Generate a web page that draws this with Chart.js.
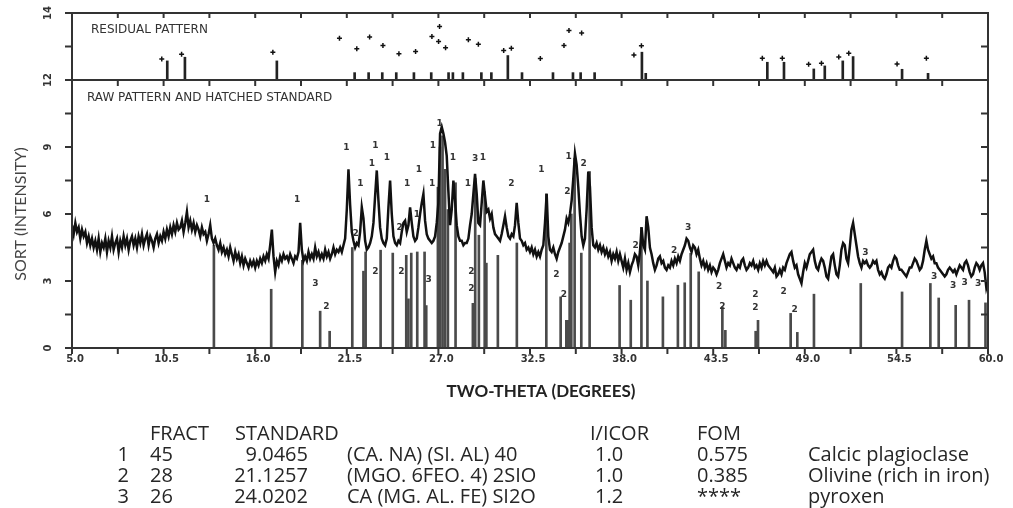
<!DOCTYPE html>
<html>
<head>
<meta charset="utf-8">
<title>XRD pattern</title>
<script src="https://cdn.jsdelivr.net/npm/chart.js@4.4.1/dist/chart.umd.min.js"></script>
<style>
  html, body { margin: 0; padding: 0; background: #fff; }
  #wrap { position: relative; width: 1013px; height: 508px; overflow: hidden; }
  #xrd { position: absolute; left: 0; top: 0; }
  .cell {
    position: absolute;
    font-family: "Open Sans", Lato, sans-serif;
    font-size: 20px;
    color: #262626;
    white-space: nowrap;
    line-height: 1;
  }
  .num { text-align: right; }
</style>
</head>
<body>
<div id="wrap">
  <canvas id="xrd" width="1013" height="508"></canvas>
</div>
<script>
// raw scan, 5.0 - 60.0 deg two-theta in 0.1 deg steps (sqrt intensity)
var rawStart = 5.0;
var rawStep = 0.1;
var rawIntensity = [
  5.5, 5.1, 5.6, 5.2, 5.4, 4.9, 5.3, 5.0, 5.2, 4.7,
  5.0, 4.6, 4.9, 4.5, 4.8, 4.4, 4.9, 4.3, 4.7, 4.5,
  4.9, 4.3, 4.8, 4.5, 5.0, 4.4, 4.7, 4.9, 4.3, 4.8,
  4.5, 5.0, 4.6, 4.9, 4.4, 4.8, 5.0, 4.6, 4.9, 4.5,
  5.0, 4.7, 5.1, 4.6, 4.9, 5.1, 4.6, 5.0, 4.8, 4.5,
  4.9, 5.1, 4.7, 5.0, 4.8, 5.2, 4.9, 5.3, 5.0, 5.4,
  5.1, 5.5, 5.2, 5.6, 5.3, 5.4, 5.7, 5.2, 5.6, 6.1,
  5.4, 5.7, 5.3, 5.6, 5.2, 5.5, 5.3, 5.0, 5.4, 5.1,
  5.2, 4.8, 5.1, 5.5, 4.9, 4.7, 4.9, 4.6, 4.4, 4.7,
  4.3, 4.5, 4.2, 4.4, 4.1, 4.5, 4.2, 3.9, 4.3, 4.0,
  4.2, 3.8, 4.1, 3.7, 4.0, 3.8, 3.6, 3.9, 3.7, 3.9,
  3.6, 3.9, 3.7, 4.0, 3.8, 4.1, 3.9, 4.2, 4.0, 4.6,
  5.3, 4.1, 3.4, 3.9, 3.7, 4.1, 3.9, 4.2, 4.0, 4.1,
  3.9, 4.2, 4.0, 3.8, 4.1, 4.0, 4.3, 5.6, 4.4, 3.9,
  4.1, 3.9, 4.3, 4.0, 4.2, 4.0, 4.5, 4.1, 4.3, 4.0,
  4.2, 4.0, 4.4, 4.1, 4.3, 4.0, 4.2, 4.5, 4.2, 4.4,
  4.3, 4.5, 4.3, 4.6, 4.9, 6.2, 8.0, 6.4, 5.2, 4.8,
  4.5, 4.7, 4.6, 5.2, 6.3, 5.8, 4.8, 4.4, 4.5, 4.7,
  5.0, 5.6, 6.8, 7.95, 6.6, 5.4, 4.9, 4.7, 4.6, 4.9,
  6.3, 7.5, 6.0, 5.0, 4.7, 4.6, 4.8, 4.7, 5.2, 5.6,
  5.7, 5.2, 5.5, 6.3, 5.6, 5.0, 4.8, 4.9, 5.4, 6.0,
  6.5, 6.9, 5.7, 5.1, 4.9, 4.8, 4.7, 4.8, 5.0, 5.6,
  6.5, 9.6, 9.9, 9.6, 9.2, 8.6, 7.0, 5.5, 6.2, 7.5,
  6.6, 5.5, 5.0, 4.8, 4.8, 4.6, 4.7, 4.7, 4.9, 5.5,
  6.0, 6.9, 7.8, 6.9, 5.6, 5.5, 6.5, 7.5, 6.8, 6.1,
  6.2, 5.8, 6.0, 5.4, 5.1, 5.0, 4.9, 4.8, 5.1, 5.5,
  5.9, 5.4, 5.0, 4.9, 5.1, 5.0, 5.5, 6.5, 5.6, 4.9,
  4.8, 4.6, 4.7, 4.4, 4.5, 4.3, 4.5, 4.2, 4.4, 4.1,
  4.3, 4.1, 4.4, 4.6, 5.6, 6.9, 5.0, 4.4, 4.3, 4.5,
  4.2, 4.0, 4.3, 4.5, 4.7, 5.0, 5.3, 5.8, 5.6, 6.0,
  6.6, 7.6, 8.7, 8.2, 7.2, 6.0, 5.0, 4.6, 4.9, 6.2,
  7.9, 7.2, 5.4, 4.6, 4.5, 4.7, 4.4, 4.6, 4.3, 4.5,
  4.2, 4.4, 4.1, 4.3, 3.9, 4.2, 4.0, 4.3, 3.9, 4.2,
  3.9, 3.6, 4.0, 3.5, 3.8, 3.4, 3.7, 3.9, 4.2, 4.1,
  3.7, 4.3, 5.4, 4.6, 4.4, 5.9, 5.4, 4.5, 4.2, 3.8,
  3.5, 3.7, 4.0, 4.1, 3.8, 3.9, 3.6, 3.5, 3.7, 3.6,
  3.9, 3.7, 4.0, 3.8, 4.1, 3.9, 4.2, 4.4, 4.6, 4.9,
  4.8, 4.5, 4.3, 4.6, 4.5, 4.2, 4.4, 4.0, 3.7, 3.9,
  3.6, 3.8, 3.5, 3.7, 3.4, 3.6, 3.5, 3.3, 3.5, 3.8,
  4.0, 4.2, 3.9, 3.6, 3.8, 3.7, 4.0, 3.8, 3.6, 3.5,
  3.7, 3.6, 3.9, 4.0, 3.7, 3.5, 3.6, 3.8, 3.7, 3.9,
  3.6, 3.7, 3.5, 3.8, 3.6, 3.9, 3.7, 3.9, 3.7, 3.6,
  3.5, 3.4, 3.6, 3.2, 3.3, 3.5, 3.3, 3.6, 3.5, 3.8,
  4.0, 4.2, 4.3, 3.9, 3.6, 3.7, 3.3, 3.1, 2.9, 3.4,
  3.8, 3.6, 3.9, 4.2, 4.3, 4.4, 3.9, 3.6, 3.5, 3.8,
  4.0, 3.9, 3.6, 3.2, 3.1, 3.6, 4.1, 4.2, 3.7, 3.3,
  3.2, 3.7, 4.4, 4.7, 4.6, 4.0, 3.8, 4.5, 5.3, 5.6,
  5.1, 4.6, 4.1, 3.8, 3.6, 3.9, 3.8, 3.9, 3.7, 3.6,
  3.7, 3.9, 3.8, 3.9, 3.5, 3.3, 3.4, 3.2, 3.1, 3.3,
  3.6, 3.7, 3.6, 3.9, 4.1, 4.0, 3.7, 3.5, 3.5, 3.4,
  3.3, 3.2, 3.4, 3.6, 3.6, 3.8, 4.0, 3.9, 3.7, 3.5,
  3.6, 3.9, 4.4, 4.8, 4.4, 4.2, 4.0, 4.1, 3.8, 3.8,
  3.6, 3.5, 3.4, 3.3, 3.2, 3.3, 3.5, 3.6, 3.5, 3.4,
  3.5, 3.3, 3.5, 3.7, 3.6, 3.5, 3.8, 3.9, 3.7, 3.4,
  3.2, 3.3, 3.6, 3.8, 3.7, 3.5, 3.7, 3.8, 3.4, 2.7,
  3.0
];

// hatched standard: reference line positions and heights
var stickTheta = [
  13.52, 16.96, 18.83, 19.90, 20.47, 21.83, 22.50, 22.63, 23.53, 24.26,
  25.07, 25.20, 25.37, 25.73, 26.17, 26.27, 26.97, 27.10, 27.25, 27.40,
  27.57, 28.03, 29.07, 29.21, 29.43, 29.78, 29.88, 30.57, 31.71, 33.48,
  34.34, 34.68, 34.78, 34.88, 34.98, 35.18, 35.58, 36.08, 37.88, 38.55,
  39.19, 39.55, 40.48, 41.38, 41.79, 42.15, 42.63, 44.05, 44.23, 46.05,
  46.19, 48.15, 48.55, 49.55, 52.36, 54.84, 56.54, 57.04, 58.06, 58.86,
  59.85
];
var stickHeight = [
  4.60, 2.63, 3.93, 1.65, 0.75, 4.50, 3.44, 4.30, 4.38, 4.25,
  4.15, 2.20, 4.25, 4.30, 4.30, 1.90, 7.20, 9.00, 9.50, 8.00,
  6.20, 7.40, 2.00, 7.60, 5.05, 7.00, 3.80, 4.15, 4.70, 6.90,
  2.29, 1.24, 1.24, 4.70, 6.00, 8.50, 4.25, 7.90, 2.80, 2.14,
  5.40, 3.00, 2.29, 2.81, 2.92, 4.24, 3.41, 1.84, 0.79, 0.75,
  1.24, 1.55, 0.70, 2.41, 2.89, 2.51, 2.89, 2.24, 1.91, 2.14,
  2.02
];

// phase numbers printed over the matched peaks
var peakTagTheta = [
  13.10, 18.52, 19.62, 20.27, 21.47, 23.21, 23.91, 23.00, 22.31, 25.83,
  25.13, 26.67, 26.63, 27.07, 27.87, 29.21, 29.67, 28.77, 31.38, 33.18,
  34.82, 35.72, 34.74, 24.67, 25.71, 22.03, 23.21, 24.77, 26.41, 28.98,
  28.98, 34.08, 34.54, 38.84, 41.99, 41.15, 43.85, 44.05, 46.03, 46.03,
  47.73, 48.39, 52.64, 56.76, 57.90, 58.60, 59.40
];
var peakTagLevel = [
  6.65, 6.65, 2.89, 1.84, 8.99, 9.06, 8.54, 8.24, 7.37, 7.97,
  7.37, 9.06, 7.37, 10.06, 8.54, 8.49, 8.54, 7.37, 7.37, 7.97,
  8.57, 8.24, 7.00, 5.38, 5.95, 5.13, 3.41, 3.41, 3.08, 3.41,
  2.66, 3.30, 2.39, 4.60, 5.38, 4.38, 2.74, 1.87, 2.39, 1.79,
  2.51, 1.72, 4.26, 3.18, 2.81, 2.92, 2.89
];
var peakTagText = [
  '1', '1', '3', '2', '1', '1', '1', '1', '1', '1',
  '1', '1', '1', '1', '1', '3', '1', '1', '2', '1',
  '1', '2', '2', '2', '1', '2', '2', '2', '3', '2',
  '2', '2', '2', '2', '3', '2', '2', '2', '2', '2',
  '2', '2', '3', '3', '3', '3', '3'
];

// residual pattern: bars and "+" points
var residTheta = [
  10.72, 11.78, 17.30, 21.97, 22.81, 23.63, 24.47, 25.53, 26.57, 27.61,
  27.87, 28.47, 29.58, 30.18, 31.17, 32.02, 33.88, 35.08, 35.54, 36.38,
  39.22, 39.45, 46.75, 47.75, 49.54, 50.20, 51.28, 51.90, 54.84, 56.40
];
var residHeight = [
  12.57, 12.68, 12.57, 12.22, 12.22, 12.22, 12.22, 12.22, 12.22, 12.22,
  12.22, 12.22, 12.22, 12.22, 12.73, 12.22, 12.22, 12.22, 12.22, 12.22,
  12.83, 12.20, 12.53, 12.53, 12.33, 12.42, 12.57, 12.70, 12.32, 12.20
];
var residPointTheta = [
  10.39, 11.58, 17.06, 21.06, 22.10, 22.87, 23.67, 24.63, 25.63, 26.61,
  27.07, 27.01, 27.43, 28.80, 29.40, 30.92, 31.38, 33.12, 34.54, 34.84,
  35.60, 38.74, 39.19, 46.45, 47.65, 49.23, 50.00, 51.04, 51.64, 54.54,
  56.30
];
var residPointLevel = [
  12.63, 12.77, 12.83, 13.25, 12.93, 13.28, 13.03, 12.78, 12.85, 13.30,
  13.60, 13.15, 12.96, 13.20, 13.07, 12.88, 12.95, 12.64, 13.03, 13.48,
  13.40, 12.75, 13.02, 12.65, 12.65, 12.47, 12.50, 12.69, 12.80, 12.48,
  12.65
];

// axis ticks and labels
var thetaTicks = [5.0, 7.75, 10.5, 13.25, 16.0, 18.75, 21.5, 24.25, 27.0, 29.75,
  32.5, 35.25, 38.0, 40.75, 43.5, 46.25, 49.0, 51.75, 54.5, 57.25, 60.0];
var thetaLabels = ['5.0', '10.5', '16.0', '21.5', '27.0', '32.5', '38.0', '43.5', '49.0', '54.5', '60.0'];
var rawTicks = [0, 1.5, 3, 4.5, 6, 7.5, 9, 10.5, 12];
var rawLabels = ['0', '3', '6', '9', '12'];
var residTicks = [12, 13, 14];
var residLabels = ['14'];

// identified phases
var phaseNo = ['1', '2', '3'];
var phaseFract = ['45', '28', '26'];
var phaseStandard = ['9.0465', '21.1257', '24.0202'];
var phaseFormula = ['(CA. NA) (SI. AL) 40', '(MGO. 6FEO. 4) 2SIO', 'CA (MG. AL. FE) SI2O'];
var phaseIcor = ['1.0', '1.0', '1.2'];
var phaseFom = ['0.575', '0.385', '****'];
var phaseName = ['Calcic plagioclase', 'Olivine (rich in iron)', 'pyroxen'];

var rawPoints = rawIntensity.map(function (v, i) {
  return { x: +(rawStart + i * rawStep).toFixed(2), y: v };
});
var stickPoints = stickTheta.map(function (t, i) {
  return { x: t, y: stickHeight[i] };
});
var residBars = residTheta.map(function (t, i) {
  return { x: t, y: [12, residHeight[i]] };
});
var residPoints = residPointTheta.map(function (t, i) {
  return { x: t, y: residPointLevel[i] };
});

var INK = '#333333';
var TICK_FONT = 'bold 10px "DejaVu Sans", sans-serif';

function seg(ctx, x1, y1, x2, y2) {
  ctx.beginPath();
  ctx.moveTo(x1, y1);
  ctx.lineTo(x2, y2);
  ctx.stroke();
}

// frame, ticks, axis labels, panel captions and phase numbers
var xrdFrame = {
  id: 'xrdFrame',
  afterDatasetsDraw: function (chart) {
    var ctx = chart.ctx;
    var a = chart.chartArea;
    var x = chart.scales.x;
    var y = chart.scales.y;
    var yRes = chart.scales.yRes;
    var mid = y.getPixelForValue(12);

    ctx.save();
    ctx.strokeStyle = INK;
    ctx.lineWidth = 2;
    ctx.strokeRect(a.left, a.top, a.right - a.left, a.bottom - a.top);
    seg(ctx, a.left, mid, a.right, mid);

    thetaTicks.forEach(function (t) {
      var px = x.getPixelForValue(t);
      seg(ctx, px, a.top, px, a.top + 5);
      seg(ctx, px, mid, px, mid + 6);
      seg(ctx, px, a.bottom, px, a.bottom + 6);
    });
    rawTicks.forEach(function (v) {
      var py = y.getPixelForValue(v);
      seg(ctx, a.left - 7, py, a.left, py);
      seg(ctx, a.right - 7, py, a.right, py);
    });
    residTicks.forEach(function (v) {
      var py = yRes.getPixelForValue(v);
      seg(ctx, a.left - 7, py, a.left, py);
      seg(ctx, a.right - 7, py, a.right, py);
    });

    ctx.fillStyle = INK;
    ctx.font = TICK_FONT;
    ctx.textAlign = 'center';
    ctx.textBaseline = 'middle';
    thetaLabels.forEach(function (s) {
      ctx.fillText(s, x.getPixelForValue(parseFloat(s)) + 3, a.bottom + 11);
    });

    function vLabel(s, py) {
      ctx.save();
      ctx.translate(a.left - 24, py);
      ctx.rotate(-Math.PI / 2);
      ctx.fillText(s, 0, 0);
      ctx.restore();
    }
    rawLabels.forEach(function (s) { vLabel(s, y.getPixelForValue(+s)); });
    residLabels.forEach(function (s) { vLabel(s, yRes.getPixelForValue(+s)); });

    // axis titles
    ctx.save();
    ctx.font = '16px Lato, "Open Sans", sans-serif';
    ctx.fillStyle = '#444';
    ctx.translate(21, (y.top + y.bottom) / 2);
    ctx.rotate(-Math.PI / 2);
    ctx.fillText('SORT (INTENSITY)', 0, 0);
    ctx.restore();

    ctx.font = 'bold 17px Lato, "Open Sans", sans-serif';
    ctx.fillStyle = '#222';
    ctx.fillText('TWO-THETA (DEGREES)', 541, 392);

    // panel captions
    ctx.font = '12px "DejaVu Sans", sans-serif';
    ctx.fillStyle = INK;
    ctx.textAlign = 'left';
    ctx.fillText('RESIDUAL PATTERN', a.left + 19, yRes.getPixelForValue(13.5));
    ctx.fillText('RAW PATTERN AND HATCHED STANDARD', a.left + 15, y.getPixelForValue(11.2));

    // phase numbers
    ctx.font = 'bold 9px "DejaVu Sans", sans-serif';
    ctx.textAlign = 'center';
    peakTagText.forEach(function (s, i) {
      ctx.fillText(s, x.getPixelForValue(peakTagTheta[i]), y.getPixelForValue(peakTagLevel[i]));
    });
    ctx.restore();
  }
};

var chart = new Chart(document.getElementById('xrd'), {
  data: {
    datasets: [
      {
        type: 'line',
        label: 'raw',
        data: rawPoints,
        yAxisID: 'y',
        borderColor: '#111',
        borderWidth: 2.5,
        pointRadius: 0,
        tension: 0,
        order: 0
      },
      {
        type: 'bar',
        label: 'standard',
        data: stickPoints,
        yAxisID: 'y',
        backgroundColor: '#4a4a4a',
        barThickness: 2,
        grouped: false,
        order: 2
      },
      {
        type: 'bar',
        label: 'residual',
        data: residBars,
        yAxisID: 'yRes',
        backgroundColor: '#222',
        barThickness: 2,
        grouped: false,
        order: 1
      },
      {
        type: 'scatter',
        label: 'residual points',
        data: residPoints,
        yAxisID: 'yRes',
        pointStyle: 'cross',
        pointRadius: 2.5,
        borderWidth: 1.5,
        borderColor: '#111',
        order: 0
      }
    ]
  },
  options: {
    responsive: false,
    animation: false,
    devicePixelRatio: 1,
    layout: { padding: { top: 13, right: 25, left: 0, bottom: 128 } },
    plugins: { legend: { display: false }, tooltip: { enabled: false } },
    scales: {
      x: {
        type: 'linear',
        min: 5,
        max: 60,
        offset: false,
        grid: { display: false },
        border: { display: false },
        ticks: { display: false },
        afterFit: function (s) { s.height = 32; }
      },
      y: {
        type: 'linear',
        min: 0,
        max: 12,
        stack: 'xrd',
        stackWeight: 4,
        grid: { display: false },
        border: { display: false },
        ticks: { display: false },
        afterFit: function (s) { s.width = 72; }
      },
      yRes: {
        type: 'linear',
        position: 'left',
        min: 12,
        max: 14,
        stack: 'xrd',
        stackWeight: 1,
        grid: { display: false },
        border: { display: false },
        ticks: { display: false },
        afterFit: function (s) { s.width = 72; }
      }
    }
  },
  plugins: [xrdFrame]
});

// phase table under the plot
var wrap = document.getElementById('wrap');
function cell(text, left, top, right) {
  var d = document.createElement('div');
  d.className = 'cell';
  d.textContent = text;
  if (right) {
    d.classList.add('num');
    d.style.right = (1013 - left) + 'px';
  } else {
    d.style.left = left + 'px';
  }
  d.style.top = top + 'px';
  wrap.appendChild(d);
}
var headTop = 423;
cell('FRACT', 150, headTop);
cell('STANDARD', 235, headTop);
cell('I/ICOR', 590, headTop);
cell('FOM', 697, headTop);
phaseNo.forEach(function (n, i) {
  var top = 444 + i * 21;
  cell(n, 129, top, true);
  cell(phaseFract[i], 150, top);
  cell(phaseStandard[i], 308, top, true);
  cell(phaseFormula[i], 347, top);
  cell(phaseIcor[i], 595, top);
  cell(phaseFom[i], 697, top);
  cell(phaseName[i], 808, top);
});
</script>
</body>
</html>
